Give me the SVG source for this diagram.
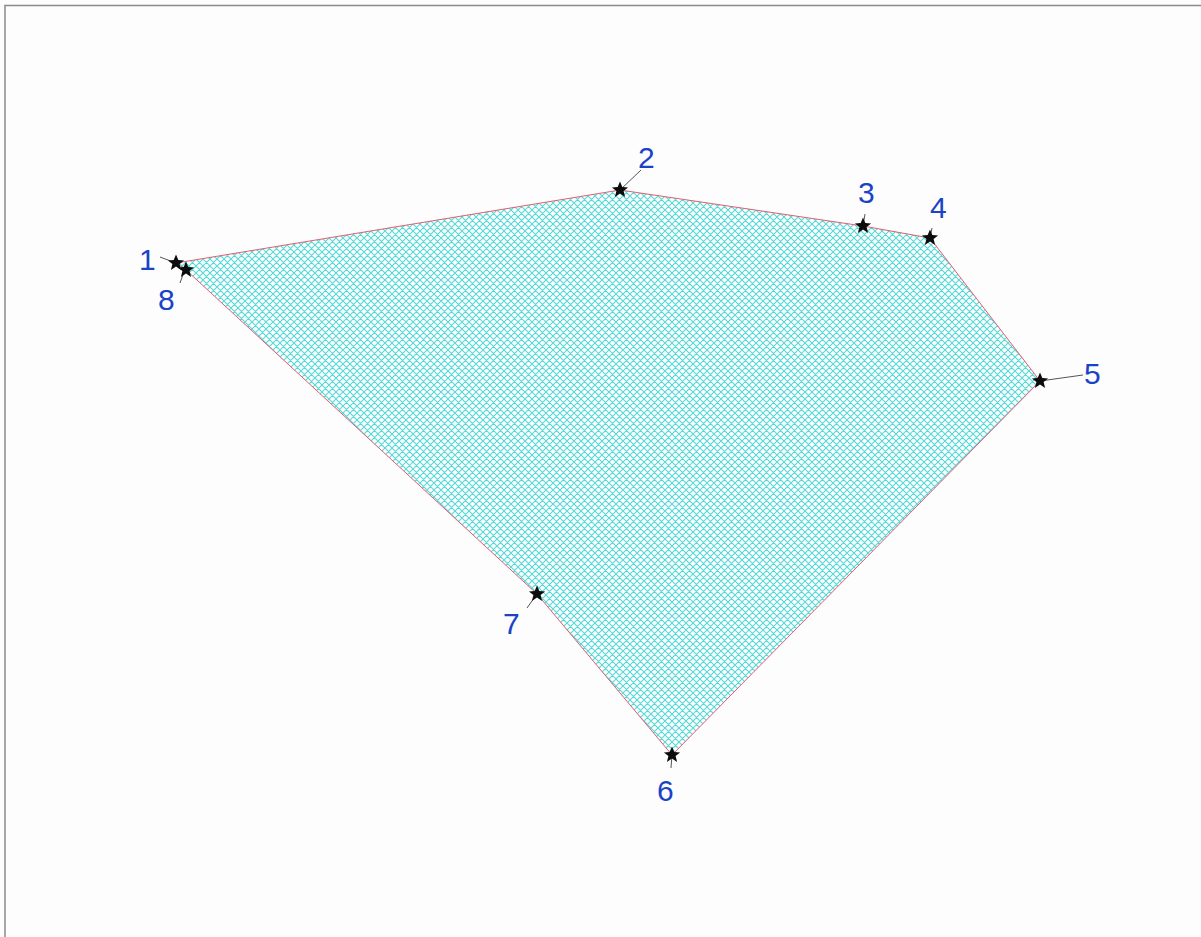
<svg xmlns="http://www.w3.org/2000/svg" width="1201" height="937" viewBox="0 0 1201 937">
<defs>
<pattern id="hatch" patternUnits="userSpaceOnUse" width="7" height="7">
<path d="M0,0 L7,7 M7,0 L0,7 M-1,6 L1,8 M6,-1 L8,1 M-1,1 L1,-1 M6,8 L8,6" stroke="#55d8d6" stroke-width="1.1"/>
</pattern>
<path id="star" d="M0,-8.5 L2.3,-2.9 L8.1,-2.6 L3.6,1.1 L5.1,6.9 L0,3.6 L-5.1,6.9 L-3.6,1.1 L-8.1,-2.6 L-2.3,-2.9 Z" fill="#0c0c0c"/>
<style>
.lbl{font-family:"Liberation Sans",Arial,sans-serif;font-size:30px;fill:#1a43c6;}
.lead{stroke:#555;stroke-width:1;fill:none;}
.edge{fill:url(#hatch);stroke:#e06070;stroke-width:1;}
</style>
</defs>
<rect width="1201" height="937" fill="#fdfdfd"/>
<path d="M5,937 V5.5 H1201" stroke="#8a8a8a" stroke-width="1.5" fill="none"/>
<g id="shape">
<polygon class="edge" points="176,263 620,190 863,226 930,238 1040,381 672,755 537,594 185,269"/>
</g>
<g id="connectors">
<path class="lead" d="M176,263 L160,257"/>
<path class="lead" d="M185,269 L180,283"/>
<path class="lead" d="M620,190 L641,170"/>
<path class="lead" d="M863,226 L865,214"/>
<path class="lead" d="M930,238 L932,228"/>
<path class="lead" d="M1040,381 L1083,375"/>
<path class="lead" d="M672,755 L671,768"/>
<path class="lead" d="M537,594 L527,608"/>
</g>
<g id="n1"><use href="#star" x="176" y="263"/><text class="lbl" x="139" y="270">1</text></g>
<g id="n8"><use href="#star" x="186" y="270"/><text class="lbl" x="158" y="310">8</text></g>
<g id="n2"><use href="#star" x="620" y="190"/><text class="lbl" x="638" y="168">2</text></g>
<g id="n3"><use href="#star" x="863" y="226"/><text class="lbl" x="858" y="203">3</text></g>
<g id="n4"><use href="#star" x="930" y="238"/><text class="lbl" x="930" y="218">4</text></g>
<g id="n5"><use href="#star" x="1040" y="381"/><text class="lbl" x="1084" y="384">5</text></g>
<g id="n6"><use href="#star" x="672" y="755"/><text class="lbl" x="657" y="801">6</text></g>
<g id="n7"><use href="#star" x="537" y="594"/><text class="lbl" x="503" y="634">7</text></g>
</svg>
